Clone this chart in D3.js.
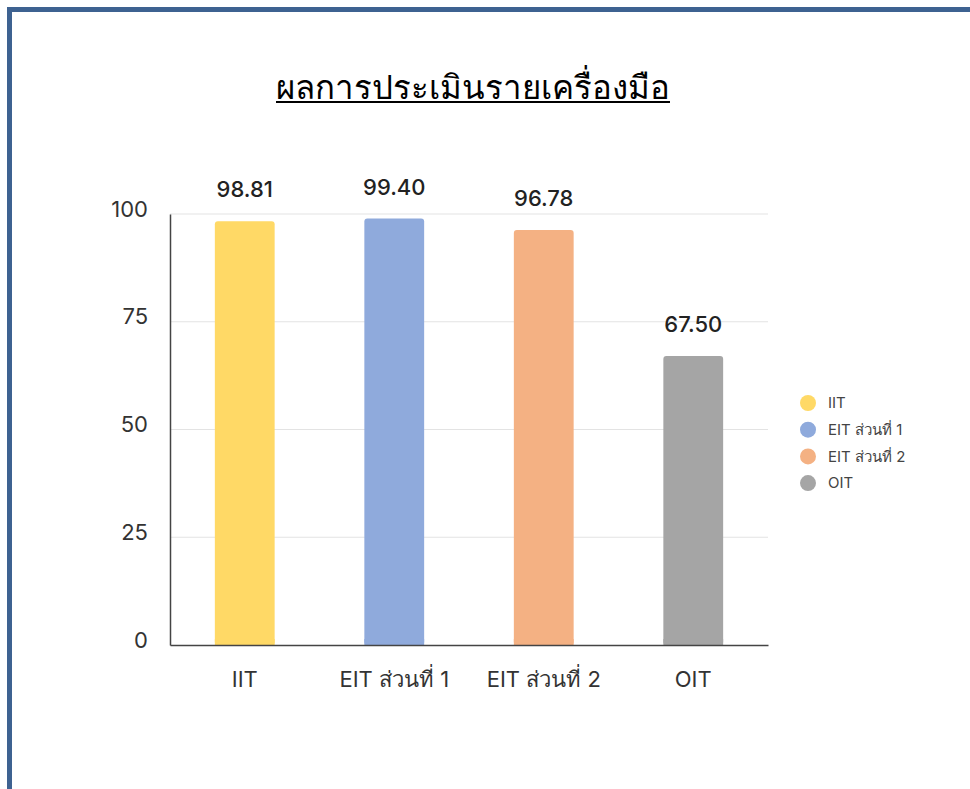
<!DOCTYPE html>
<html>
<head>
<meta charset="utf-8">
<script src="https://cdn.jsdelivr.net/npm/d3@7"></script>
<style>
  body { margin: 0; background: #fff; }
  svg { display: block; }
</style>
</head>
<body>
<div class="chartCont"></div>
<script>
const w = 970;
const h = 789;

// data
const categories = ["IIT", "EIT ส่วนที่ 1", "EIT ส่วนที่ 2", "OIT"];
const values = [98.81, 99.40, 96.78, 67.50];
const colors = ["#FFD966", "#8FAADC", "#F4B183", "#A5A5A5"];
const yTicks = [0, 25, 50, 75, 100];
const title = "ผลการประเมินรายเครื่องมือ";

const svg = d3.select(".chartCont").append("svg")
    .attr("width", w)
    .attr("height", h);

// frame
svg.append("path")
    .attr("d", `M9.5,${h} L9.5,9.5 L${w},9.5`)
    .attr("fill", "none")
    .attr("stroke", "#3E6291")
    .attr("stroke-width", 5);

// title with underline
const titleEl = svg.append("text")
    .attr("x", 473)
    .attr("y", 99)
    .attr("text-anchor", "middle")
    .style("font-family", "'Noto Sans', sans-serif")
    .style("font-size", "33px")
    .style("font-weight", 300)
    .attr("fill", "#000")
    .text(title);

const tw = titleEl.node().getComputedTextLength();
svg.append("line")
    .attr("x1", 473 - tw / 2)
    .attr("x2", 473 + tw / 2)
    .attr("y1", 102)
    .attr("y2", 102)
    .attr("stroke", "#000")
    .attr("stroke-width", 2);

const mLeft = 170, mRight = 768, mTop = 214, mBottom = 645;

const x = d3.scaleBand()
    .domain(categories)
    .range([mLeft, mRight]);

const y = d3.scaleLinear()
    .domain([0, 100])
    .range([mBottom, mTop]);

const font = "Inter, 'Noto Sans', sans-serif";

// gridlines
svg.append("g").selectAll("line")
    .data(yTicks.filter(d => d > 0))
    .enter()
    .append("line")
    .attr("x1", mLeft)
    .attr("x2", mRight)
    .attr("y1", d => y(d))
    .attr("y2", d => y(d))
    .attr("stroke", "#e3e3e3")
    .attr("stroke-width", 1);

// y axis
const yAxis = svg.append("g")
    .attr("transform", `translate(${mLeft},0)`)
    .call(d3.axisLeft(y).tickValues(yTicks).tickSize(0).tickPadding(22));
yAxis.select(".domain").attr("stroke", "#444").attr("stroke-width", 1.5);
yAxis.selectAll("text")
    .style("font-family", font)
    .style("font-size", "22px")
    .attr("fill", "#333")
    .attr("dy", "0.1em");

// bars
const bw = x.bandwidth() * 0.4;
svg.append("g").selectAll("rect")
    .data(values)
    .enter()
    .append("rect")
    .attr("x", (d, i) => x(categories[i]) + x.bandwidth() / 2 - bw / 2)
    .attr("y", d => y(d) + 2)
    .attr("width", bw)
    .attr("height", d => mBottom - y(d) - 2)
    .attr("rx", 3)
    .attr("fill", (d, i) => colors[i]);

// square bottoms
svg.append("g").selectAll("rect")
    .data(values)
    .enter()
    .append("rect")
    .attr("x", (d, i) => x(categories[i]) + x.bandwidth() / 2 - bw / 2)
    .attr("y", mBottom - 6)
    .attr("width", bw)
    .attr("height", 6)
    .attr("fill", (d, i) => colors[i]);

// value labels
svg.append("g").selectAll("text")
    .data(values)
    .enter()
    .append("text")
    .attr("x", (d, i) => x(categories[i]) + x.bandwidth() / 2)
    .attr("y", d => y(d) - 22)
    .attr("text-anchor", "middle")
    .style("font-family", font)
    .style("font-size", "22px")
    .style("font-weight", 500)
    .attr("fill", "#222")
    .text(d => d.toFixed(2));

// x axis
const xAxis = svg.append("g")
    .attr("transform", `translate(0,${mBottom})`)
    .call(d3.axisBottom(x).tickSize(0).tickPadding(26));
xAxis.select(".domain").attr("stroke", "#444").attr("stroke-width", 1.5);
xAxis.selectAll("text")
    .style("font-family", font)
    .style("font-size", "22px")
    .attr("fill", "#333");

// legend
const legend = svg.append("g").selectAll("g")
    .data(categories)
    .enter()
    .append("g")
    .attr("transform", (d, i) => `translate(808,${403 + i * 26.7})`);

legend.append("circle")
    .attr("r", 8)
    .attr("fill", (d, i) => colors[i]);

legend.append("text")
    .attr("x", 20)
    .attr("dy", "0.35em")
    .style("font-family", font)
    .style("font-size", "15px")
    .attr("fill", "#444")
    .text(d => d);
</script>
</body>
</html>
